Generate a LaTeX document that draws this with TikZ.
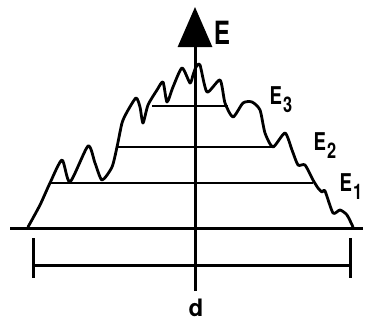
\documentclass[tikz,border=0pt]{standalone}
\usepackage{fontspec}
\usepackage{graphicx}
\setmainfont{TeX Gyre Heros}
\usetikzlibrary{arrows.meta}
\newcommand{\narrow}[1]{\scalebox{0.76}[1]{#1}}
\newcommand{\elabel}[1]{\narrow{\fontsize{24.5}{25}\selectfont E\hspace{1.5pt}\raisebox{-8pt}{\fontsize{21.5}{22}\selectfont #1}}}
\begin{document}
\begin{tikzpicture}[x=1pt,y=-1pt,
  thick line/.style={line width=3pt},
  level line/.style={line width=1.4pt},
  lbl/.style={font=\bfseries, inner sep=0pt}]
\useasboundingbox (0,0) rectangle (365,325);
% axis
\coordinate (axbot) at (195,291);
\coordinate (axtop) at (195,7);
\draw[thick line, -{Triangle[length=40pt,width=34pt]}] (axbot) -- (axtop);
\node[lbl] (E) at (222,33) {\narrow{\fontsize{32}{32}\selectfont E}};
% baseline
\coordinate (bl) at (10,228);
\coordinate (br) at (363,228);
\draw[thick line] (bl) -- (br);
% bracket
\coordinate (kl) at (33,265);
\coordinate (kr) at (350,265);
\coordinate (klt) at (33,238);
\coordinate (klb) at (33,278);
\coordinate (krt) at (350,238);
\coordinate (krb) at (350,278);
\draw[thick line] (kl) -- (kr);
\draw[thick line] (klt) -- (klb);
\draw[thick line] (krt) -- (krb);
\node[lbl, font=\bfseries\fontsize{24}{24}\selectfont] (d) at (196,308) {d};
% level lines
\coordinate (l1a) at (50,183);
\coordinate (l1b) at (313,183);
\coordinate (l2a) at (117,147);
\coordinate (l2b) at (273,147);
\coordinate (l3a) at (152,106);
\coordinate (l3b) at (228,106);
\draw[level line] (l1a) -- (l1b);
\draw[level line] (l2a) -- (l2b);
\draw[level line] (l3a) -- (l3b);
% labels
\node[lbl] (E3) at (281,100) {\elabel{3}};
\node[lbl] (E2) at (325,146) {\elabel{2}};
\node[lbl] (E1) at (351,187) {\elabel{1}};
% profile
\draw[line width=2.8pt, line join=round, line cap=round] plot[smooth, tension=0.4] coordinates {
 (28,227) (40,205) (50,183) (62,160) (70,182) (88,146) (95,163) (102,180)
 (112,167) (117,147) (122,123) (127,112) (136,98) (140,107) (143,123) (148,105)
 (157,90) (163,82) (167,102) (173,87) (182,68) (190,83) (193,75)
 (196,67) (200,65) (207,92) (220,80) (225,103) (233,117) (243,103) (252,102)
 (260,110) (265,133) (273,147) (285,133) (292,150) (298,165) (305,165) (313,180)
 (318,188) (322,192) (325,191) (333,213) (340,210) (347,215) (353,227)};
\end{tikzpicture}
\end{document}
